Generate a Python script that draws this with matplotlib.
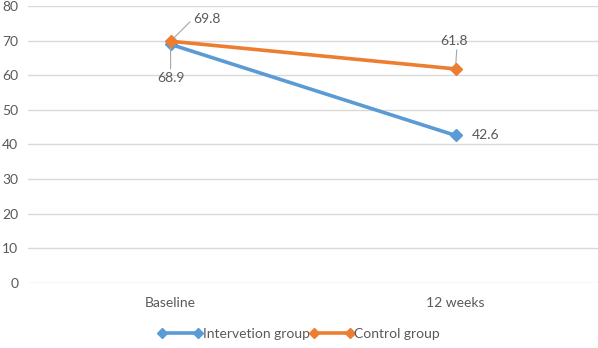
import matplotlib
matplotlib.use("Agg")
import matplotlib.pyplot as plt

# chart data
timepoints = ["Baseline", "12 weeks"]
intervention_values = [68.9, 42.6]
control_values = [69.8, 61.8]
series_names = ["Intervetion group", "Control group"]
y_ticks = [0, 10, 20, 30, 40, 50, 60, 70, 80]

BLUE = "#5B9BD5"
ORANGE = "#ED7D31"
TEXT = "#595959"

plt.rcParams["font.family"] = ["Lato", "DejaVu Sans"]

fig = plt.figure(figsize=(5.98, 3.48), dpi=100)
ax = fig.add_axes([0.047, 0.187, 0.953, 0.796])

x = list(range(len(timepoints)))
ax.plot(x, intervention_values, color=BLUE, linewidth=2.6, marker="D",
        markersize=6, label=series_names[0], zorder=3)
ax.plot(x, control_values, color=ORANGE, linewidth=2.6, marker="D",
        markersize=6, label=series_names[1], zorder=4)

ax.set_xlim(-0.5, 1.5)
ax.set_ylim(0, 80)
ax.set_yticks(y_ticks)
ax.set_xticks(x)
ax.set_xticklabels(timepoints)
ax.grid(axis="y", color="#D9D9D9", linewidth=1)
ax.set_axisbelow(True)
for side in ["top", "right", "left", "bottom"]:
    ax.spines[side].set_visible(False)
ax.tick_params(axis="both", length=0, colors=TEXT, labelsize=10)
ax.tick_params(axis="y", pad=7)
ax.tick_params(axis="x", pad=10)

# data labels with leader lines
leader = dict(arrowstyle="-", color="#A6A6A6", linewidth=0.8,
              shrinkA=0, shrinkB=2)
ax.annotate(f"{control_values[0]}", xy=(x[0], control_values[0]),
            xytext=(16, 16), textcoords="offset points", fontsize=10,
            color=TEXT, va="center", ha="left",
            arrowprops=dict(leader, relpos=(0, 0.5)))
ax.annotate(f"{intervention_values[0]}", xy=(x[0], intervention_values[0]),
            xytext=(0, -24), textcoords="offset points", fontsize=10,
            color=TEXT, va="center", ha="center",
            arrowprops=dict(leader, relpos=(0.5, 1)))
ax.annotate(f"{control_values[1]}", xy=(x[1], control_values[1]),
            xytext=(-1, 20), textcoords="offset points", fontsize=10,
            color=TEXT, va="center", ha="center",
            arrowprops=dict(leader, relpos=(0.6, 0)))
ax.annotate(f"{intervention_values[1]}", xy=(x[1], intervention_values[1]),
            xytext=(12, 0), textcoords="offset points", fontsize=10,
            color=TEXT, va="center", ha="left")

leg = fig.legend(loc="center", bbox_to_anchor=(0.5, 0.04), ncol=2,
                 frameon=False, fontsize=10, handlelength=3.2, numpoints=2,
                 handletextpad=0.0, columnspacing=0.0, markerscale=0.9)
for t in leg.get_texts():
    t.set_color(TEXT)

fig.savefig("out.png", dpi=100)
